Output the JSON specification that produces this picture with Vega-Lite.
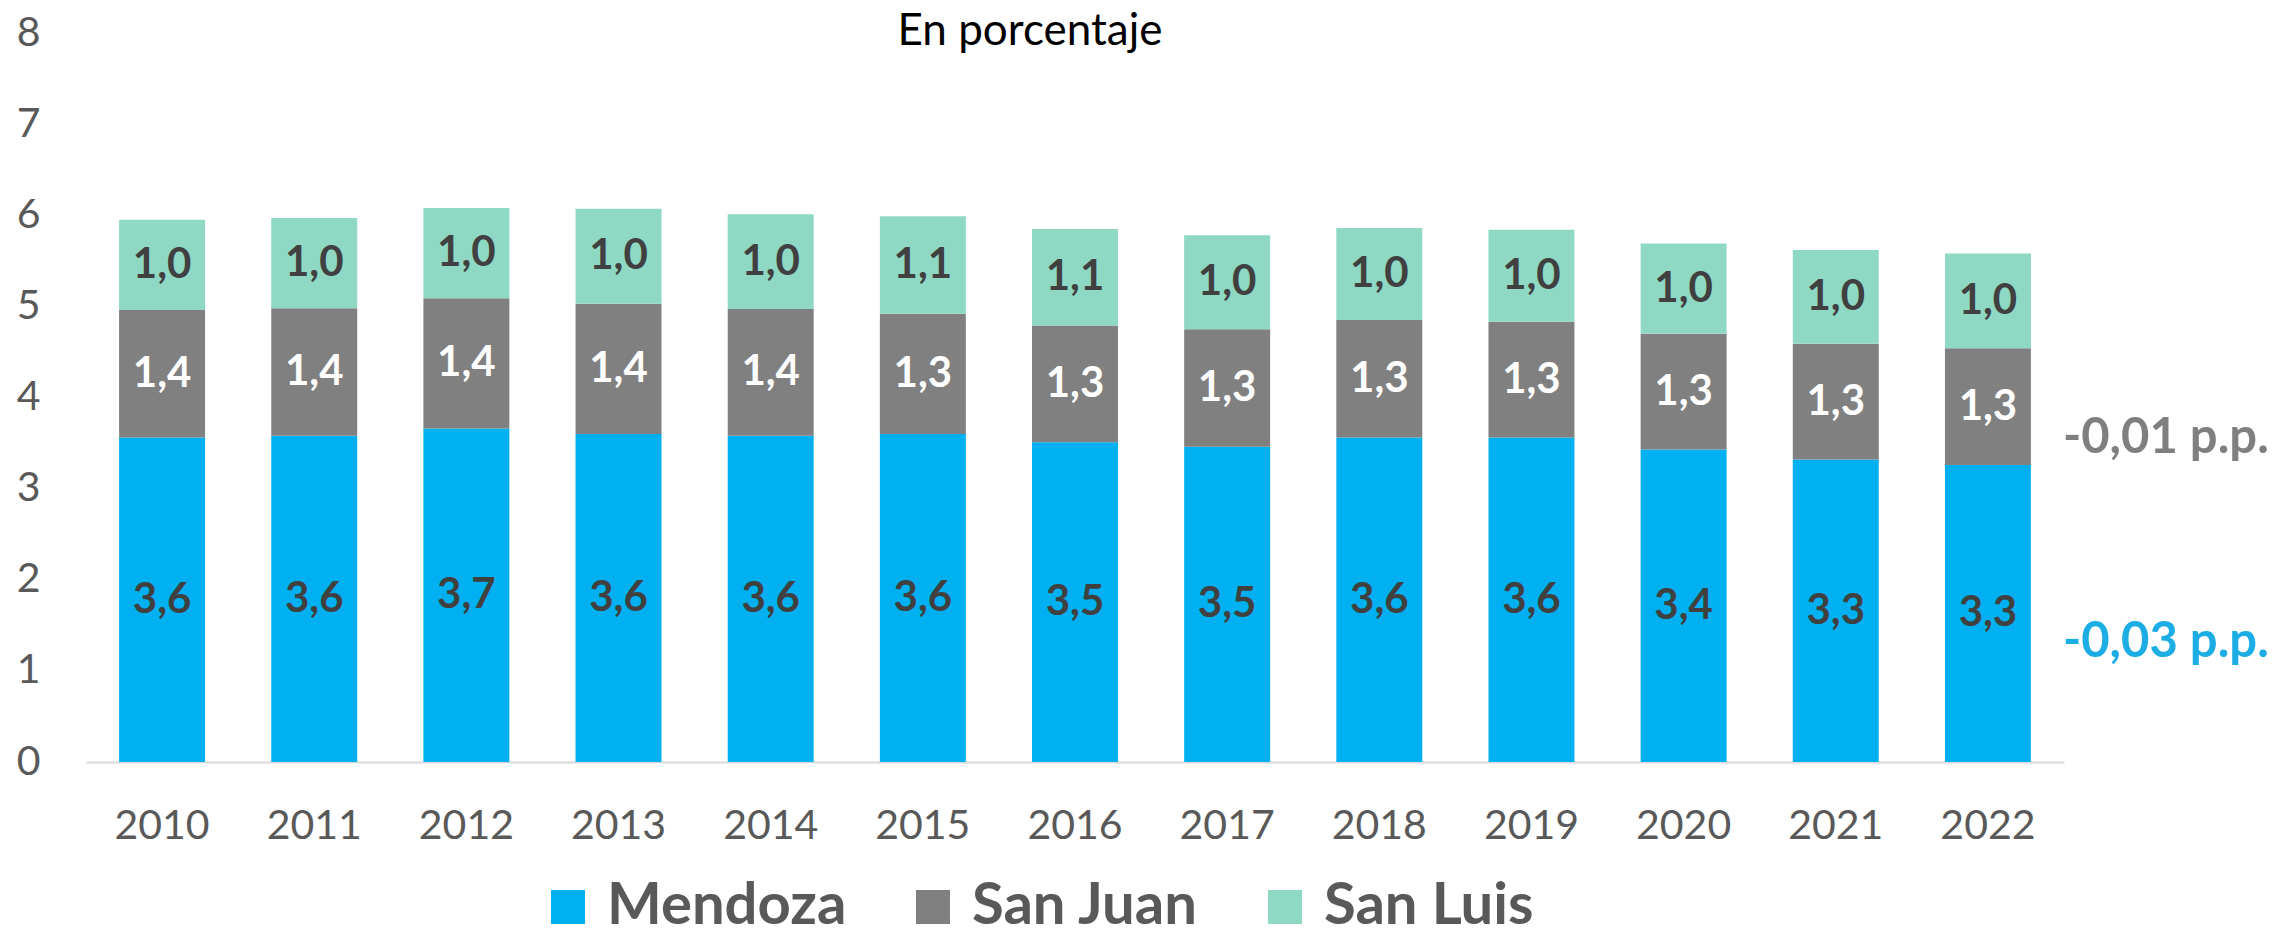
{
  "$schema": "https://vega.github.io/schema/vega-lite/v6.json",
  "autosize": "none",
  "width": 1978,
  "height": 729,
  "padding": {"left": 86, "top": 33, "right": 210, "bottom": 177},
  "title": {
    "text": "En porcentaje",
    "anchor": "middle",
    "orient": "top",
    "offset": -42,
    "dx": -45,
    "baseline": "top",
    "font": "Lato",
    "fontSize": 44,
    "fontWeight": "normal",
    "color": "#000000"
  },
  "datasets": {
    "shares": [
      {"year": "2010", "region": "Mendoza", "v": 3.56},
      {"year": "2010", "region": "San Juan", "v": 1.40},
      {"year": "2010", "region": "San Luis", "v": 0.99},
      {"year": "2011", "region": "Mendoza", "v": 3.58},
      {"year": "2011", "region": "San Juan", "v": 1.40},
      {"year": "2011", "region": "San Luis", "v": 0.99},
      {"year": "2012", "region": "Mendoza", "v": 3.66},
      {"year": "2012", "region": "San Juan", "v": 1.43},
      {"year": "2012", "region": "San Luis", "v": 0.99},
      {"year": "2013", "region": "Mendoza", "v": 3.60},
      {"year": "2013", "region": "San Juan", "v": 1.43},
      {"year": "2013", "region": "San Luis", "v": 1.04},
      {"year": "2014", "region": "Mendoza", "v": 3.58},
      {"year": "2014", "region": "San Juan", "v": 1.39},
      {"year": "2014", "region": "San Luis", "v": 1.04},
      {"year": "2015", "region": "Mendoza", "v": 3.60},
      {"year": "2015", "region": "San Juan", "v": 1.32},
      {"year": "2015", "region": "San Luis", "v": 1.07},
      {"year": "2016", "region": "Mendoza", "v": 3.51},
      {"year": "2016", "region": "San Juan", "v": 1.28},
      {"year": "2016", "region": "San Luis", "v": 1.06},
      {"year": "2017", "region": "Mendoza", "v": 3.46},
      {"year": "2017", "region": "San Juan", "v": 1.29},
      {"year": "2017", "region": "San Luis", "v": 1.03},
      {"year": "2018", "region": "Mendoza", "v": 3.56},
      {"year": "2018", "region": "San Juan", "v": 1.29},
      {"year": "2018", "region": "San Luis", "v": 1.01},
      {"year": "2019", "region": "Mendoza", "v": 3.56},
      {"year": "2019", "region": "San Juan", "v": 1.27},
      {"year": "2019", "region": "San Luis", "v": 1.01},
      {"year": "2020", "region": "Mendoza", "v": 3.43},
      {"year": "2020", "region": "San Juan", "v": 1.27},
      {"year": "2020", "region": "San Luis", "v": 0.99},
      {"year": "2021", "region": "Mendoza", "v": 3.32},
      {"year": "2021", "region": "San Juan", "v": 1.27},
      {"year": "2021", "region": "San Luis", "v": 1.03},
      {"year": "2022", "region": "Mendoza", "v": 3.26},
      {"year": "2022", "region": "San Juan", "v": 1.28},
      {"year": "2022", "region": "San Luis", "v": 1.04}
    ],
    "notes": [
      {"year": "2022", "who": "San Juan", "pos": 3.39, "label": "-0,01 p.p."},
      {"year": "2022", "who": "Mendoza", "pos": 1.15, "label": "-0,03 p.p."}
    ]
  },
  "layer": [
    {
      "data": {"name": "shares"},
      "mark": {"type": "bar"},
      "encoding": {
        "x": {
          "field": "year",
          "type": "ordinal",
          "scale": {"paddingInner": 0.435, "paddingOuter": 0.2175},
          "axis": {
            "title": null,
            "ticks": false,
            "domainColor": "#D9D9D9",
            "domainWidth": 2,
            "labelFont": "Lato",
            "labelFontSize": 41,
            "labelColor": "#595959",
            "labelPadding": 44,
            "labelAngle": 0
          }
        },
        "y": {
          "field": "v",
          "type": "quantitative",
          "stack": "zero",
          "scale": {"domain": [0, 8], "nice": false},
          "axis": {
            "title": null,
            "grid": false,
            "domain": false,
            "ticks": false,
            "values": [0, 1, 2, 3, 4, 5, 6, 7, 8],
            "labelOverlap": false,
            "labelFont": "Lato",
            "labelFontSize": 41,
            "labelColor": "#595959",
            "labelPadding": 46,
            "format": "d"
          }
        },
        "color": {
          "field": "region",
          "type": "nominal",
          "scale": {
            "domain": ["Mendoza", "San Juan", "San Luis"],
            "range": ["#00B0F0", "#808080", "#8ED8C4"]
          },
          "legend": {
            "title": null,
            "orient": "none",
            "direction": "horizontal",
            "legendX": 453,
            "legendY": 845,
            "padding": 0,
            "symbolType": "square",
            "symbolSize": 1156,
            "symbolStrokeWidth": 0,
            "labelFont": "Lato",
            "labelFontSize": 58,
            "labelFontWeight": "bold",
            "labelColor": "#595959",
            "labelOffset": 10,
            "columnPadding": 57,
            "labelLimit": 0
          }
        },
        "order": {"field": "region", "type": "nominal", "sort": "ascending"}
      }
    },
    {
      "data": {"name": "shares"},
      "mark": {"type": "text", "font": "Lato", "fontSize": 42, "fontWeight": "bold", "baseline": "middle", "align": "center"},
      "encoding": {
        "x": {"field": "year", "type": "ordinal"},
        "y": {"field": "v", "type": "quantitative", "stack": "zero", "bandPosition": 0.5},
        "detail": {"field": "region", "type": "nominal"},
        "order": {"field": "region", "type": "nominal", "sort": "ascending"},
        "text": {"field": "v", "type": "quantitative", "format": ".1f"},
        "color": {
          "condition": {"test": "datum.region === 'San Juan'", "value": "#FFFFFF"},
          "value": "#404040"
        }
      }
    },
    {
      "data": {"name": "notes"},
      "mark": {"type": "text", "font": "Lato", "fontSize": 49, "fontWeight": "bold", "baseline": "alphabetic", "align": "left", "dx": 75},
      "encoding": {
        "x": {"field": "year", "type": "ordinal"},
        "y": {"field": "pos", "type": "quantitative"},
        "text": {"field": "label", "type": "nominal"},
        "color": {
          "condition": {"test": "datum.who === 'Mendoza'", "value": "#1CADE4"},
          "value": "#7F7F7F"
        }
      }
    }
  ],
  "config": {
    "view": {"stroke": null},
    "font": "Lato",
    "locale": {
      "number": {"decimal": ",", "thousands": ".", "grouping": [3], "currency": ["$", ""]}
    }
  }
}
